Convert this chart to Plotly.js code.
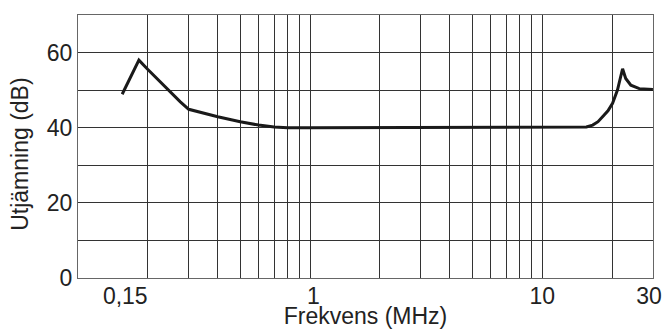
<!DOCTYPE html>
<html>
<head>
<meta charset="utf-8">
<script src="https://cdn.plot.ly/plotly-3.0.1.min.js"></script>
<style>html,body{margin:0;padding:0;background:#fff}#chart{width:665px;height:329px}</style>
</head>
<body>
<div id="chart"></div>
<script>
// Frequency (MHz) and equalization (dB)
const freq = [0.155, 0.183, 0.2, 0.22, 0.245, 0.276, 0.3, 0.35, 0.4, 0.5, 0.6, 0.7, 0.8, 1, 2, 5, 10, 14.5, 15.5, 16.5, 17.4, 18.2, 19.2, 20.1, 21.1, 22.2, 22.9, 24.1, 26.2, 30];
const gain = [48.9, 58, 55.5, 52.9, 50, 46.9, 44.9, 43.8, 42.9, 41.6, 40.7, 40.2, 40, 40, 40, 40, 40, 40, 40.2, 40.7, 41.6, 42.9, 44.5, 46.5, 50, 55.7, 53.1, 51.3, 50.4, 50.2];

// Grid lines (log decades) and labelled ticks
const gridX = [0.2, 0.3, 0.4, 0.5, 0.6, 0.7, 0.8, 0.9, 1, 2, 3, 4, 5, 6, 7, 8, 9, 10, 20];
const labelX = [0.15, 1, 10];
const labelXText = ["\u00a0\u00a00,15", "\u00a01", "10"];
const labelXEnd = [30];
const labelXEndText = ["30"];
const gridY = [0, 10, 20, 30, 40, 50, 60];
const labelYText = ["0", "", "20", "", "40", "", "60"];
const yTitle = "Utjämning (dB)";
const xTitle = "Frekvens (MHz)";

const font = {family: "Liberation Sans, Arial, sans-serif", size: 23, color: "#222"};
const xr = [Math.log10(0.1), Math.log10(30.02)];

const data = [
  {x: freq, y: gain, type: "scatter", mode: "lines", line: {color: "#1a1a1a", width: 3}, xaxis: "x", yaxis: "y", hoverinfo: "skip"},
  {x: labelX, y: labelX.map(() => null), type: "scatter", mode: "lines", xaxis: "x2", yaxis: "y", showlegend: false},
  {x: labelXEnd, y: [null], type: "scatter", mode: "lines", xaxis: "x3", yaxis: "y", showlegend: false}
];

const layout = {
  width: 665, height: 329,
  margin: {l: 78, r: 12, t: 15, b: 51},
  paper_bgcolor: "#fff", plot_bgcolor: "#fff",
  showlegend: false,
  font: font,
  xaxis: {
    type: "log", range: xr,
    tickmode: "array", tickvals: gridX, ticktext: gridX.map(() => ""),
    showgrid: true, gridcolor: "#333", gridwidth: 1,
    showline: true, linecolor: "#666", linewidth: 1, mirror: true,
    ticks: "", zeroline: false, showticklabels: false
  },
  xaxis2: {
    type: "log", range: xr, overlaying: "x", side: "bottom", anchor: "y",
    tickmode: "array", tickvals: labelX, ticktext: labelXText,
    showgrid: false, zeroline: false, showline: false, ticks: "",
    tickfont: font, ticklabelstandoff: 2, ticklabeloverflow: "allow",
    title: {text: xTitle, font: font, standoff: 0}
  },
  xaxis3: {
    type: "log", range: xr, overlaying: "x", side: "bottom", anchor: "y",
    tickmode: "array", tickvals: labelXEnd, ticktext: labelXEndText,
    showgrid: false, zeroline: false, showline: false, ticks: "",
    tickfont: font, ticklabelstandoff: 2, ticklabelshift: -4, ticklabeloverflow: "allow"
  },
  yaxis: {
    range: [0, 70],
    tickmode: "array", tickvals: gridY, ticktext: labelYText,
    showgrid: true, gridcolor: "#333", gridwidth: 1,
    showline: true, linecolor: "#666", linewidth: 1, mirror: true,
    ticks: "", zeroline: false, tickfont: font
  },
  annotations: [{
    text: yTitle, font: font, textangle: -90,
    xref: "paper", yref: "paper", x: -0.101, y: 0.472,
    xanchor: "center", yanchor: "middle", showarrow: false
  }]
};

Plotly.newPlot("chart", data, layout, {staticPlot: true, displayModeBar: false});
</script>
</body>
</html>
